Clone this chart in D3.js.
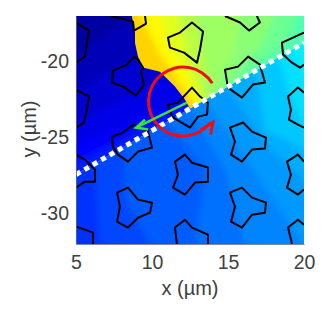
<!DOCTYPE html>
<html>
<head>
<meta charset="utf-8">
<script src="https://cdn.jsdelivr.net/npm/d3@7"></script>
<style>
body { margin: 0; background: #fff; }
text { font-family: "Liberation Sans", Arial, sans-serif; fill: #404040; }
</style>
</head>
<body>
<script>
// values in micrometres
let xTicks = [5, 10, 15, 20];
let yTicks = [-20, -25, -30];
let xRange = [5, 20];
let yRange = [-32, -17];

// domain wall and the dotted line that cut the field into three parts
let wall = [[8.68, -17], [8.88, -18.09], [8.88, -18.75], [9.08, -19.67], [9.41, -20.39], [10.53, -20.66], [11.51, -21.64], [12.17, -22.5], [12.5, -23.09]];
let dotted = [[5, -27.43], [20, -18.75]];

// colour bands, [jet value, boundary]
let bandsLeft = [
    [0.05, [[5, -19.5], [9, -17], [14, -17]]],
    [0.07, [[5, -22], [10, -19], [14, -18]]],
    [0.09, [[5, -24], [12, -20.5], [14, -20]]],
    [0.11, [[5, -25.5], [13, -22], [14, -22]]],
    [0.14, [[5, -26.6], [13, -22.6], [14, -22.6]]]
];
let bandsRight = [
    [0.625, [[9.28, -17], [9.87, -18.22], [10.53, -19.54], [11.51, -20.86], [12.83, -22.83]]],
    [0.59, [[10.53, -17], [11.18, -19.21], [12.5, -21.18], [13.16, -22.83]]],
    [0.55, [[11.71, -17], [12.5, -19.87], [13.16, -21.84], [13.49, -23.16]]],
    [0.52, [[12.83, -17], [13.49, -19.87], [13.49, -21.84]]],
    [0.5, [[15.79, -17], [15.46, -19.21], [13.95, -22.17]]],
    [0.47, [[18.09, -17], [17.24, -18.88], [14.33, -22.17]]],
    [0.44, [[19.6, -17], [18.75, -18.88], [16.12, -20.86]]]
];
let bandsLower = [
    [0.18, [[6.25, -27.11], [6.58, -32]]],
    [0.2, [[8.22, -25.79], [8.22, -29.08], [9.87, -32]]],
    [0.22, [[10.86, -23.82], [13.49, -27.11], [12.83, -32]]],
    [0.24, [[12.5, -23.16], [14.8, -27.11], [16.12, -32]]],
    [0.26, [[13.49, -22.5], [16.45, -26.78], [20, -32]]],
    [0.28, [[14.8, -21.51], [17.77, -25.79], [20, -27.76]]],
    [0.305, [[16.78, -20.53], [17.43, -24.47], [20, -25.79]]],
    [0.33, [[18.09, -19.21], [19.08, -22.17], [20, -24.15]]],
    [0.345, [[19.08, -18.55], [20, -20.86]]]
];
let baseLeft = 0.03, baseRight = 0.665, baseLower = 0.16;

// black outlines
let outlines = [
    [[5, -17.43], [5.86, -17.96], [5.72, -18.75], [5.59, -19.67], [5, -20.07]],
    [[7.24, -17], [8.03, -17.17], [8.75, -17.37], [8.82, -17.96], [9.61, -17.5], [9.54, -17]],
    [[5, -21.84], [5.86, -22.3], [5.72, -23.16], [5.53, -24.01], [5, -24.34]],
    [[8.82, -19.67], [9.08, -19.87], [9.41, -20.39], [9.28, -20.66], [9.47, -21.51], [8.95, -22.24], [8.09, -21.64], [7.37, -21.38], [7.43, -20.59], [8.36, -20.2]],
    [[11.05, -18.42], [11.84, -18.09], [12.63, -17.43], [13.36, -18.02], [13.16, -19.21], [12.96, -20.07], [12.11, -19.41], [11.18, -19.08]],
    [[14.8, -20.53], [15.66, -20.33], [16.32, -19.67], [17.1, -20.2], [17.43, -21.38], [16.64, -21.51], [15.92, -22.37], [15, -21.71]],
    [[14.8, -17], [15.79, -17.43], [16.38, -17.96], [17.1, -17.43], [16.9, -17]],
    [[20, -18.09], [19.28, -18.42], [18.55, -18.75], [18.62, -19.54], [19.21, -20.07], [19.74, -20.4], [20, -20.2]],
    [[11.05, -22.83], [11.71, -22.7], [12.63, -21.71], [13.16, -22.3], [13.68, -22.7], [13.62, -23.49], [13.03, -23.62], [12.5, -24.34], [11.84, -23.95], [11.32, -23.62]],
    [[20, -22.04], [19.6, -21.71], [18.95, -22.3], [19.14, -23.16], [19.01, -23.82], [19.6, -24.15], [20, -24.34]],
    [[7.37, -24.93], [8.09, -24.67], [8.75, -24.15], [9.74, -24.61], [10, -25.66], [9.08, -25.92], [8.42, -26.58], [7.76, -26.12], [7.43, -25.6]],
    [[15.13, -24.34], [15.99, -24.01], [16.58, -24.61], [17.5, -25], [17.43, -25.72], [16.58, -25.79], [15.92, -26.58], [15.2, -26.12], [15.46, -25.26]],
    [[11.51, -26.58], [12.17, -26.12], [12.63, -26.65], [13.68, -26.97], [13.68, -27.9], [12.83, -27.96], [12.17, -28.75], [11.38, -28.29], [11.71, -27.44]],
    [[5, -26.12], [5.59, -26.45], [6.25, -27.11], [6.25, -27.9], [5.59, -27.9], [5, -28.29]],
    [[7.7, -28.62], [8.42, -28.29], [9.08, -29.08], [10, -29.28], [9.87, -29.94], [9.08, -30.27], [8.42, -30.92], [7.7, -30.53], [7.89, -29.55]],
    [[15.13, -28.62], [15.92, -28.29], [16.58, -28.95], [17.5, -29.28], [17.43, -29.94], [16.58, -30.07], [15.92, -30.92], [15.2, -30.53], [15.46, -29.55]],
    [[20, -26.58], [19.6, -26.12], [18.88, -26.58], [19.14, -27.44], [18.88, -28.29], [19.6, -28.75], [20, -28.42]],
    [[5, -30.86], [6.12, -31.25], [6.12, -32]],
    [[11.64, -32], [11.51, -30.92], [12.17, -30.4], [12.63, -30.92], [13.68, -31.38], [13.68, -32]],
    [[19.21, -32], [18.95, -30.92], [19.6, -30.4], [20, -30.73]]
];

// red rotation arrow, angles in degrees clockwise from up
let redCentre = [12.04, -22.63];
let redRadius = 2.27;
let redAngles = [58, -232.5];
let redHead = [[13.2, -24.5], [14.0, -24.0], [13.85, -24.8]];

let greenLine = [[12.3, -22.7], [8.95, -24.34]];
let greenHead = [[9.54, -23.82], [8.95, -24.34], [9.74, -24.47]];

const width = 335, height = 320;
const margin = { left: 76, right: 31, top: 16, bottom: 76 };

let svg = d3.select("body").append("svg").attr("width", width).attr("height", height);

let xScale = d3.scaleLinear().domain(xRange).range([margin.left, width - margin.right]);
let yScale = d3.scaleLinear().domain(yRange).range([height - margin.bottom, margin.top]);

// matlab jet
let jet = d3.scaleLinear()
    .domain([0, 0.11, 0.36, 0.62, 0.88, 1])
    .range(["#00007f", "#0000ff", "#00ffff", "#ffff00", "#ff0000", "#7f0000"]);

let line = d3.line().x(d => xScale(d[0])).y(d => yScale(d[1]));

let defs = svg.append("defs");
// blur stays inside each part, the wall between parts is only softened a little
defs.append("filter").attr("id", "smooth")
    .attr("filterUnits", "userSpaceOnUse")
    .attr("x", 0).attr("y", 0).attr("width", width).attr("height", height)
    .append("feGaussianBlur").attr("stdDeviation", 3);
defs.append("filter").attr("id", "soft")
    .attr("filterUnits", "userSpaceOnUse")
    .attr("x", 0).attr("y", 0).attr("width", width).attr("height", height)
    .append("feGaussianBlur").attr("stdDeviation", 0.5);
defs.append("filter").attr("id", "softer")
    .attr("filterUnits", "userSpaceOnUse")
    .attr("x", 0).attr("y", 0).attr("width", width).attr("height", height)
    .append("feGaussianBlur").attr("stdDeviation", 0.35);

let clipLeft = [[5, -17]].concat(wall, [dotted[0]]);
let clipRight = wall.concat([[20, -18.75], [20, -17]]);
let clipLower = [dotted[0], dotted[1], [20, -32], [5, -32]];

function addClip(id, pts) {
    defs.append("clipPath").attr("id", id).append("path").attr("d", line(pts) + "Z");
}
addClip("clip-left", clipLeft);
addClip("clip-right", clipRight);
addClip("clip-lower", clipLower);
addClip("clip-plot", [[5, -17], [20, -17], [20, -32], [5, -32]]);

let field = svg.append("g").attr("clip-path", "url(#clip-plot)").append("g").attr("filter", "url(#soft)");

// one part of the field: a base colour and bands stacked on it
function addPart(clip, base, bands, closeBand) {
    let g = field.append("g").attr("clip-path", "url(#" + clip + ")")
        .append("g").attr("filter", "url(#smooth)");
    g.append("rect")
        .attr("x", xScale(3)).attr("y", yScale(-15))
        .attr("width", xScale(22) - xScale(3)).attr("height", yScale(-34) - yScale(-15))
        .attr("fill", jet(base));
    g.selectAll(".band").data(bands).enter().append("path")
        .attr("class", "band")
        .attr("d", d => line(closeBand(d[1])) + "Z")
        .attr("fill", d => jet(d[0]));
}

// bands of the right hand parts run to the right edge, those on the left run down
let closeRight = b => [[b[0][0], -15]].concat(b, [[22, -34], [22, -15]]);
let closeDown = b => [[3, b[0][1]]].concat(b, [[14, -34], [3, -34]]);

addPart("clip-lower", baseLower, bandsLower, closeRight);
addPart("clip-right", baseRight, bandsRight, closeRight);
addPart("clip-left", baseLeft, bandsLeft, closeDown);

let marks = svg.append("g").attr("clip-path", "url(#clip-plot)").attr("filter", "url(#softer)");

marks.selectAll(".outline").data(outlines).enter().append("path")
    .attr("class", "outline")
    .attr("d", d => {
        // outlines cut by the frame stay open
        let p = d[0];
        let open = p[0] == 5 || p[0] == 20 || p[1] == -32 || p[1] == -17;
        return line(d) + (open ? "" : "Z");
    })
    .attr("fill", "none")
    .attr("stroke", "#000")
    .attr("stroke-width", 2)
    .attr("stroke-linejoin", "round");

marks.append("path")
    .attr("d", line(dotted))
    .attr("stroke", "#fff")
    .attr("stroke-width", 5)
    .attr("stroke-dasharray", "5.2,4.5")
    .attr("fill", "none");

let r = xScale(redCentre[0] + redRadius) - xScale(redCentre[0]);
marks.append("path")
    .attr("transform", "translate(" + xScale(redCentre[0]) + "," + yScale(redCentre[1]) + ")")
    .attr("d", d3.arc()({
        innerRadius: r - 1.5,
        outerRadius: r + 1.5,
        startAngle: redAngles[0] * Math.PI / 180,
        endAngle: redAngles[1] * Math.PI / 180
    }))
    .attr("fill", "#f01010");
marks.append("path")
    .attr("d", line(redHead))
    .attr("fill", "none")
    .attr("stroke", "#f01010")
    .attr("stroke-width", 3);

[greenLine, greenHead].forEach(d => {
    marks.append("path")
        .attr("d", line(d))
        .attr("fill", "none")
        .attr("stroke", "#3ce03c")
        .attr("stroke-width", 2.6);
});

// axes
let xAxis = d3.axisBottom(xScale).tickValues(xTicks).tickSize(0).tickPadding(11).tickFormat(String);
let yAxis = d3.axisLeft(yScale).tickValues(yTicks).tickSize(0).tickPadding(7).tickFormat(String);

let gx = svg.append("g").attr("transform", "translate(0," + yScale(-32) + ")").call(xAxis);
let gy = svg.append("g").attr("transform", "translate(" + xScale(5) + ",0)").call(yAxis);

[gx, gy].forEach(g => {
    g.select(".domain").attr("stroke", "#5a6a80").attr("stroke-width", 0.8);
    g.selectAll(".tick text").style("font-size", "19.5px").attr("font-family", null);
});

svg.append("text")
    .attr("x", 190).attr("y", 295)
    .attr("text-anchor", "middle")
    .style("font-size", "20px")
    .text("x (µm)");

svg.append("text")
    .attr("transform", "translate(36,129) rotate(-90)")
    .attr("text-anchor", "middle")
    .style("font-size", "20px")
    .text("y (µm)");
</script>
</body>
</html>
